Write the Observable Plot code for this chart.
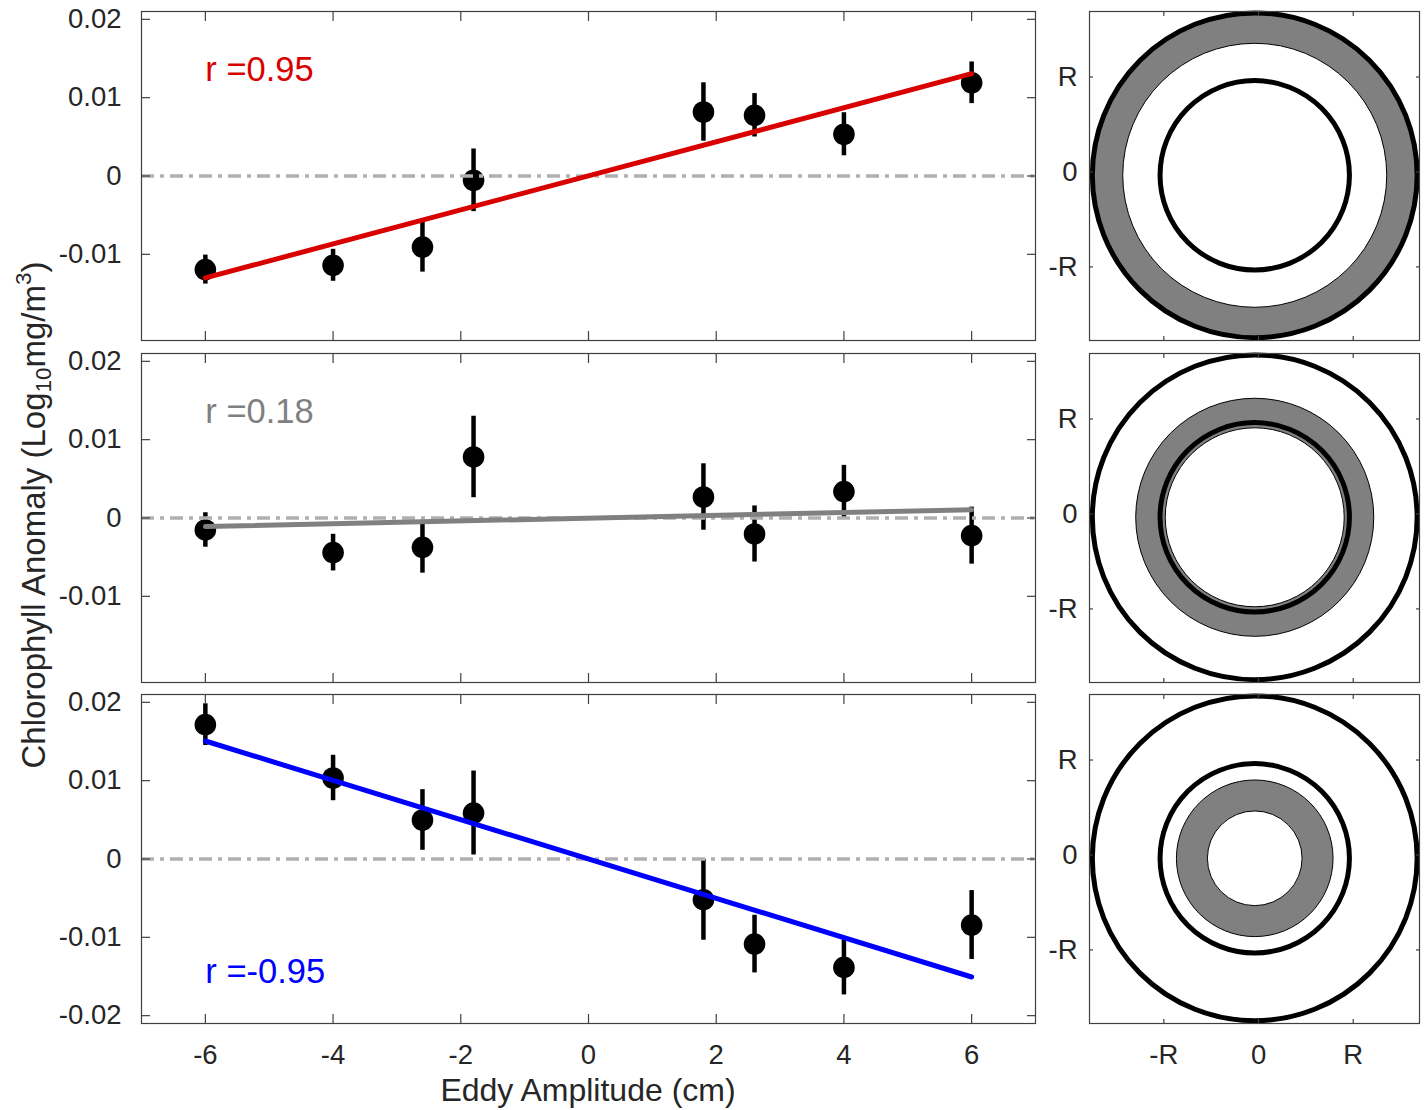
<!DOCTYPE html>
<html>
<head>
<meta charset="utf-8">
<script src="https://cdn.jsdelivr.net/npm/d3@7"></script>
<script src="https://cdn.jsdelivr.net/npm/@observablehq/plot@0.6"></script>
<style>
  body { margin: 0; background: white; }
  #fig { position: relative; width: 1424px; height: 1110px; background: white;
         font-family: "Liberation Sans", Arial, Helvetica, sans-serif; color: #262626; }
  .panel { position: absolute; }
  .panel svg { overflow: visible !important; max-width: none !important; background: transparent !important; display: block; }
  .title { position: absolute; white-space: nowrap; line-height: 1; color: #262626; }
  .title sub { font-size: 0.68em; vertical-align: -0.28em; line-height: 0; }
  .title sup { font-size: 0.68em; vertical-align: 0.6em; line-height: 0; }
</style>
</head>
<body>
<div id="fig"></div>
<script>
// ---------- data ----------
const amplitude = [-6, -4, -2.6, -1.8, 1.8, 2.6, 4, 6];

const chlTop = [-0.01195, -0.0114, -0.00907, -0.00055, 0.00817, 0.00775, 0.00533, 0.0119];
const errTop = [0.00185, 0.00204, 0.0032, 0.0040, 0.00373, 0.00277, 0.00275, 0.00266];

const chlMid = [-0.00153, -0.00442, -0.00374, 0.00779, 0.00268, -0.00204, 0.00337, -0.00225];
const errMid = [0.0022, 0.00234, 0.0033, 0.0052, 0.00424, 0.00358, 0.00335, 0.00364];

const chlBot = [0.01715, 0.01034, 0.00498, 0.00587, -0.0052, -0.01086, -0.01384, -0.00843];
const errBot = [0.00266, 0.0029, 0.00387, 0.00536, 0.00517, 0.00368, 0.00351, 0.0044];

const rLabels = ["r =0.95", "r =0.18", "r =-0.95"];
const rColors = ["#d90000", "#808080", "#0000ff"];

const xTicks = [-6, -4, -2, 0, 2, 4, 6];
const xTickLabels = ["-6", "-4", "-2", "0", "2", "4", "6"];
const yTicksUpper = [0.02, 0.01, 0, -0.01];
const yTicksLower = [0.02, 0.01, 0, -0.01, -0.02];
const yTickLabels = ["0.02", "0.01", "0", "-0.01", "-0.02"];

const ringTicks = [-1, 0, 1];
const ringTickLabels = ["-R", "0", "R"];
const eddyCenter = [-0.04, -0.035];          // in units of R
const domainRadius = 1.715;                  // outer thick circle
const eddyRadius = 1.0;                      // thick circle at R
const ringOuter = [1.715, 1.257, 0.827];     // grey annulus outer radius
const ringInner = [1.394, 0.945, 0.50];      // grey annulus inner radius

const chl = [chlTop, chlMid, chlBot];
const err = [errTop, errMid, errBot];

// ---------- layout ----------
const FONT = '"Liberation Sans", Arial, Helvetica, sans-serif';
const TEXT = "#262626";
const FRAME = "#404040";
const panelTops = [11, 352.5, 694];
const panelH = 329;
const fig = document.getElementById("fig");

function place(el, left, top, w) {
  const d = document.createElement("div");
  d.className = "panel";
  d.style.left = left + "px";
  d.style.top = top + "px";
  d.style.width = w + "px";
  d.append(el);
  fig.append(d);
}

const fmtY = d => yTickLabels[yTicksLower.indexOf(d)];
const fmtX = d => xTickLabels[xTicks.indexOf(d)];
const fmtR = d => ringTickLabels[ringTicks.indexOf(d)];

function tickMarks(xt, yt, size) {
  const o = {tickSize: -size, stroke: FRAME, strokeWidth: 1.2, fill: "none", tickFormat: () => "", label: null};
  return [
    Plot.axisY(yt, {anchor: "left", ...o}),
    Plot.axisY(yt, {anchor: "right", ...o}),
    Plot.axisX(xt, {anchor: "top", ...o}),
    Plot.axisX(xt, {anchor: "bottom", ...o})
  ];
}

function leftPanel(i) {
  const data = amplitude.map((x, j) => ({x, y: chl[i][j], e: err[i][j]}));
  const last = i === 2;
  const yt = last ? yTicksLower : yTicksUpper;
  return Plot.plot({
    width: 1041, height: panelH,
    marginLeft: 141, marginRight: 6, marginTop: 0, marginBottom: 0,
    style: {background: "transparent", overflow: "visible", fontFamily: FONT},
    x: {domain: [-7, 7]},
    y: {domain: [-0.021, 0.021]},
    marks: [
      Plot.ruleX(data, {x: "x", y1: d => d.y - d.e, y2: d => d.y + d.e, stroke: "black", strokeWidth: 4.5}),
      Plot.dot(data, {x: "x", y: "y", r: 10.8, fill: "black"}),
      Plot.ruleY([0], {stroke: "#b0b0b0", strokeWidth: 3.5, strokeDasharray: "13,6,4,6"}),
      Plot.linearRegressionY(data, {x: "x", y: "y", ci: 0, stroke: rColors[i], strokeWidth: 5}),
      Plot.text([rLabels[i]], {x: -6, y: last ? -0.0144 : 0.0136, text: d => d, textAnchor: "start",
                               fill: rColors[i], fontSize: 34.5}),
      Plot.frame({stroke: FRAME, strokeWidth: 1.2}),
      ...tickMarks(xTicks, yt, 9),
      Plot.axisY(yt, {anchor: "left", tickSize: 0, tickPadding: 20, tickFormat: fmtY,
                      fontSize: 27.5, fill: TEXT, label: null}),
      last ? Plot.axisX(xTicks, {anchor: "bottom", tickSize: 0, tickPadding: 21, tickFormat: fmtX,
                                 fontSize: 27.5, fill: TEXT, label: null}) : null
    ]
  });
}

function rightPanel(i) {
  const W = 330, xd = [-1.785, 1.70], yd = [-1.775, 1.69];
  const k = W / (xd[1] - xd[0]);
  const last = i === 2;
  const c = {x: eddyCenter[0], y: eddyCenter[1], r: d => d};
  return Plot.plot({
    width: W, height: panelH, margin: 0,
    style: {background: "transparent", overflow: "visible", fontFamily: FONT},
    x: {domain: xd},
    y: {domain: yd},
    r: {type: "linear", domain: [0, 1], range: [0, k]},
    marks: [
      Plot.dot([ringOuter[i]], {...c, fill: "#808080", stroke: "black", strokeWidth: 1}),
      Plot.dot([ringInner[i]], {...c, fill: "white", stroke: "black", strokeWidth: 1}),
      Plot.dot([domainRadius, eddyRadius], {...c, fill: "none", stroke: "black", strokeWidth: 5}),
      Plot.frame({stroke: FRAME, strokeWidth: 1.2}),
      ...tickMarks(ringTicks, ringTicks, 4),
      Plot.axisY(ringTicks, {anchor: "left", tickSize: 0, tickPadding: 12, tickFormat: fmtR,
                             fontSize: 27.5, fill: TEXT, label: null}),
      last ? Plot.axisX(ringTicks, {anchor: "bottom", tickSize: 0, tickPadding: 21, tickFormat: fmtR,
                                    fontSize: 27.5, fill: TEXT, label: null}) : null
    ]
  });
}

for (let i = 0; i < 3; ++i) {
  place(leftPanel(i), 0, panelTops[i], 1041);
  place(rightPanel(i), 1089, panelTops[i], 330);
}

// axis titles
const xt = document.createElement("div");
xt.className = "title";
xt.style.fontSize = "32px";
xt.textContent = "Eddy Amplitude (cm)";
xt.style.left = "588px"; xt.style.top = "1074px"; xt.style.transform = "translateX(-50%)";
fig.append(xt);

const yt = document.createElement("div");
yt.className = "title";
yt.style.fontSize = "33px";
yt.innerHTML = "Chlorophyll Anomaly (Log<sub>10</sub>mg/m<sup>3</sup>)";
yt.style.left = "33px"; yt.style.top = "515px";
yt.style.transform = "translate(-50%, -50%) rotate(-90deg)";
fig.append(yt);
</script>
</body>
</html>
